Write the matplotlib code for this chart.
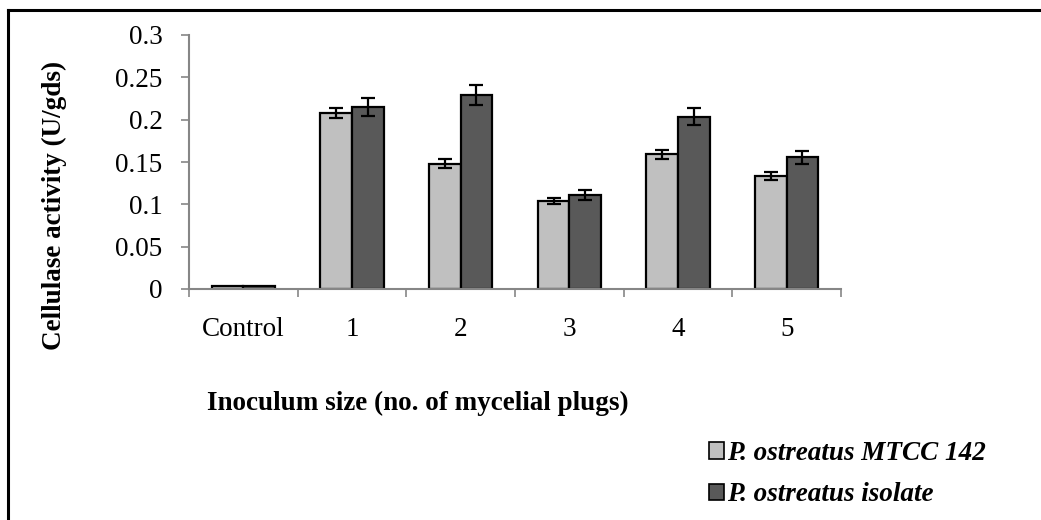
import matplotlib
matplotlib.use("Agg")
import matplotlib.pyplot as plt
from matplotlib.lines import Line2D
from matplotlib.patches import Patch
import numpy as np

categories = ["Control", "1", "2", "3", "4", "5"]
mtcc_values = [0.003, 0.208, 0.148, 0.104, 0.159, 0.1335]
mtcc_errors = [0.0, 0.006, 0.005, 0.0035, 0.005, 0.0045]
isolate_values = [0.003, 0.215, 0.229, 0.111, 0.2035, 0.1555]
isolate_errors = [0.0, 0.0105, 0.012, 0.006, 0.010, 0.008]
series_names = ["P. ostreatus MTCC 142", "P. ostreatus isolate"]
yticks = [0, 0.05, 0.1, 0.15, 0.2, 0.25, 0.3]
ytick_labels = ["0", "0.05", "0.1", "0.15", "0.2", "0.25", "0.3"]

plt.rcParams['font.family'] = ['Liberation Serif', 'DejaVu Serif']
FS = 19.5

W, H = 1041, 520
fig = plt.figure(figsize=(W / 100, H / 100), dpi=100)
ax = fig.add_axes([189 / W, 1 - 289 / H, (841 - 189) / W, (289 - 35) / H])

x = np.arange(len(categories))
bw = 0.29
light = "#c0c0c0"
dark = "#595959"
ax.bar(x - bw / 2, mtcc_values, bw, color=light, edgecolor="black", linewidth=1.6, zorder=2)
ax.bar(x + bw / 2, isolate_values, bw, color=dark, edgecolor="black", linewidth=1.6, zorder=2)
for xs, vals, errs in [(x - bw / 2, mtcc_values, mtcc_errors), (x + bw / 2, isolate_values, isolate_errors)]:
    xs_e = [a for a, e in zip(xs, errs) if e > 0]
    v_e = [v for v, e in zip(vals, errs) if e > 0]
    e_e = [e for e in errs if e > 0]
    ax.errorbar(xs_e, v_e, yerr=e_e, fmt="none", ecolor="black", elinewidth=1.6,
                capsize=4.8, capthick=1.6, zorder=3)

ax.set_xlim(-0.5, len(categories) - 0.5)
ax.set_ylim(0, 0.3)
ax.set_yticks(yticks)
ax.set_yticklabels(ytick_labels, fontsize=FS)
ax.set_xticks(x)
ax.set_xticklabels(categories, fontsize=FS)
ax.tick_params(axis="x", length=0, pad=20)
ax.set_xticks(np.arange(-0.5, len(categories), 1.0), minor=True)
ax.tick_params(axis="x", which="minor", length=6, width=1.2, color="#868686", direction="out")
ax.tick_params(axis="y", length=6, width=1.2, color="#868686", direction="out", pad=13)

for s in ["top", "right"]:
    ax.spines[s].set_visible(False)
for s in ["left", "bottom"]:
    ax.spines[s].set_color("#868686")
    ax.spines[s].set_linewidth(1.5)

fig.text(54 / W, 1 - 205 / H, "Cellulase activity (U/gds)", rotation=90, fontsize=FS,
         fontweight="bold", ha="center", va="center")
fig.text(418 / W, 1 - 403 / H, "Inoculum size (no. of mycelial plugs)", fontsize=FS,
         fontweight="bold", ha="center", va="center")

handles = [Patch(facecolor=light, edgecolor="black", linewidth=1.2),
           Patch(facecolor=dark, edgecolor="black", linewidth=1.2)]
leg = fig.legend(handles, series_names, loc="upper left", bbox_to_anchor=(709 / W, 1 - 441 / H),
                 frameon=False, prop={"size": FS, "style": "italic", "weight": "bold"},
                 handlelength=0.55, handleheight=0.55, handletextpad=0.12, labelspacing=0.6,
                 borderpad=0, borderaxespad=0)

fig.add_artist(Line2D([8 / W, 1], [1 - 9.5 / H, 1 - 9.5 / H], color="black", linewidth=2.2,
                      transform=fig.transFigure))
fig.add_artist(Line2D([8 / W, 8 / W], [1 - 9.5 / H, 0], color="black", linewidth=2.2,
                      transform=fig.transFigure))

fig.savefig("out.png", dpi=100)
